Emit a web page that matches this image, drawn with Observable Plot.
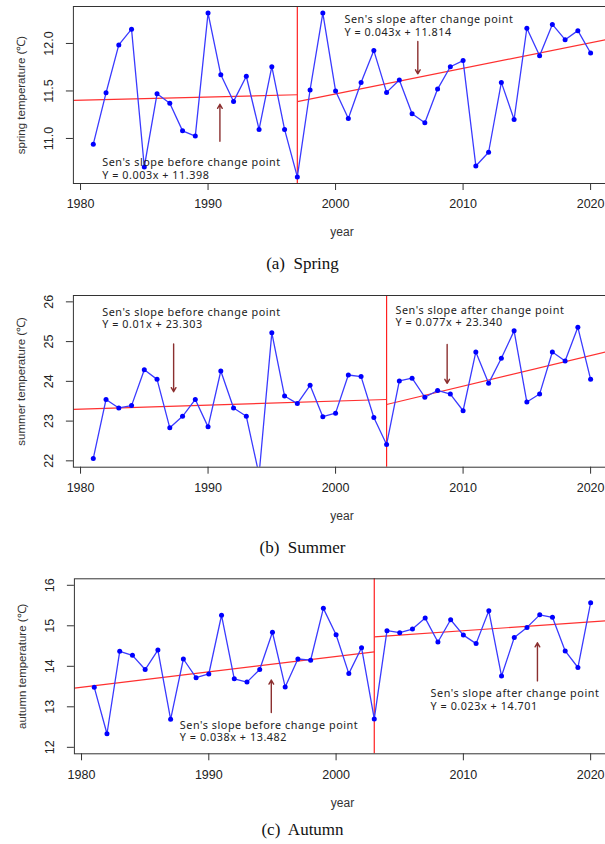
<!DOCTYPE html>
<html>
<head>
<meta charset="utf-8">
<script src="https://cdn.jsdelivr.net/npm/d3@7"></script>
<script src="https://cdn.jsdelivr.net/npm/@observablehq/plot@0.6"></script>
<style>
  html, body { margin: 0; padding: 0; background: #fff; }
  #root { position: relative; width: 605px; height: 844px; overflow: hidden; background: #fff; }
  .panel { position: absolute; left: 0; width: 605px; }
  .cap { position: absolute; left: 0; width: 605px; text-align: center;
         font-family: "Liberation Serif", "Times New Roman", serif; font-size: 17px; color: #111;
         line-height: 20px; white-space: pre; }
</style>
</head>
<body>
<div id="root"></div>
<script>
// ---------- data ----------
const years = [1981,1982,1983,1984,1985,1986,1987,1988,1989,1990,
               1991,1992,1993,1994,1995,1996,1997,1998,1999,2000,
               2001,2002,2003,2004,2005,2006,2007,2008,2009,2010,
               2011,2012,2013,2014,2015,2016,2017,2018,2019,2020];

const springTemp = [10.94,11.48,11.985,12.15,10.70,11.47,11.37,11.08,11.025,12.32,
                    11.67,11.39,11.655,11.095,11.755,11.095,10.595,11.51,12.32,11.50,
                    11.21,11.59,11.925,11.485,11.615,11.26,11.165,11.52,11.755,11.82,
                    10.71,10.855,11.59,11.20,12.16,11.87,12.20,12.04,12.135,11.90];

const summerTemp = [22.06,23.545,23.33,23.39,24.29,24.05,22.83,23.12,23.545,22.855,
                    24.26,23.33,23.12,21.65,25.22,23.63,23.44,23.90,23.11,23.20,
                    24.16,24.12,23.09,22.41,24.01,24.08,23.60,23.77,23.68,23.26,
                    24.74,23.95,24.58,25.27,23.48,23.68,24.74,24.51,25.36,24.05];

const autumnTemp = [13.48,12.335,14.37,14.27,13.92,14.40,12.69,14.18,13.72,13.81,
                    15.26,13.69,13.61,13.92,14.84,13.49,14.18,14.15,15.43,14.78,
                    13.82,14.46,12.70,14.88,14.83,14.92,15.19,14.60,15.15,14.77,
                    14.56,15.37,13.76,14.71,14.96,15.27,15.21,14.38,13.97,15.57];

const xTicks = [1980, 1990, 2000, 2010, 2020];
const springYTicks = [11.0, 11.5, 12.0];
const summerYTicks = [22, 23, 24, 25, 26];
const autumnYTicks = [12, 13, 14, 15, 16];
const summerYLim = [22, 26];
const autumnYLim = [12, 16];

const changeYears = [1997, 2004, 2003];
const yLabels = ["spring temperature (\u2103)", "summer temperature (\u2103)", "autumn temperature (\u2103)"];
const xLabel = "year";
const captions = ["(a)  Spring", "(b)  Summer", "(c)  Autumn"];

// Sen's slope trend segments: [startYear, startValue, endYear, endValue]
const springTrend = [[1979.44, 11.400, 1997, 11.460], [1997, 11.387, 2021.56, 12.050]];
const summerTrend = [[1979.44, 23.297, 2004, 23.543], [2004, 23.417, 2021.56, 24.770]];
const autumnTrend = [[1979.44, 13.461, 2003, 14.356], [2003, 14.724, 2021.56, 15.130]];

// annotation texts
const springNotes = [["Sen's slope before change point", "Y = 0.003x + 11.398"],
                     ["Sen's slope after change point",  "Y = 0.043x + 11.814"]];
const summerNotes = [["Sen's slope before change point", "Y = 0.01x + 23.303"],
                     ["Sen's slope after change point",  "Y = 0.077x + 23.340"]];
const autumnNotes = [["Sen's slope before change point", "Y = 0.038x + 13.482"],
                     ["Sen's slope after change point",  "Y = 0.023x + 14.701"]];
// annotation anchors (year, value)
const springNoteAt = [[1981.7, 10.683], [2000.7, 12.188]];
const summerNoteAt = [[1981.7, 25.594], [2004.7, 25.636]];
const autumnNoteAt = [[1987.72, 12.398], [2007.42, 13.178]];

// arrows: [year, fromValue, toValue]
const springArrows = [[1990.93, 10.97, 11.36], [2006.45, 12.02, 11.68]];
const summerArrows = [[1987.3, 24.94, 23.74], [2008.75, 24.93, 23.95]];
const autumnArrows = [[1994.91, 12.86, 13.66], [2015.82, 13.64, 14.58]];

// ---------- drawing ----------
const panels = [
  {temps: springTemp, ylim: null, yTicks: springYTicks, fmt: d3.format(".1f"),
   trend: springTrend, notes: springNotes, noteAt: springNoteAt, arrows: springArrows,
   top: 0, ml: 72.9, mt: 6, mb: 67, capTop: 254},
  {temps: summerTemp, ylim: summerYLim, yTicks: summerYTicks, fmt: d3.format("d"),
   trend: summerTrend, notes: summerNotes, noteAt: summerNoteAt, arrows: summerArrows,
   top: 285, ml: 72.9, mt: 10, mb: 68.3, capTop: 538},
  {temps: autumnTemp, ylim: autumnYLim, yTicks: autumnYTicks, fmt: d3.format("d"),
   trend: autumnTrend, notes: autumnNotes, noteAt: autumnNoteAt, arrows: autumnArrows,
   top: 560, ml: 73.9, mt: 18.3, mb: 56.7, capTop: 820}
];

const root = document.getElementById("root");
const sans = "'Liberation Sans', Arial, sans-serif";

panels.forEach((p, k) => {
  const data = years.map((year, i) => ({year, temp: p.temps[i]}));
  const xe = d3.extent(years), xp = (xe[1] - xe[0]) * 0.04;
  const ye = p.ylim ?? d3.extent(p.temps), yp = (ye[1] - ye[0]) * 0.04;
  const trends = p.trend.map(([x1, y1, x2, y2]) => ({x1, y1, x2, y2}));
  const arrows = p.arrows.map(([x, y1, y2]) => ({x, y1, y2}));
  const notes = p.notes.map((lines, i) => ({x: p.noteAt[i][0], y: p.noteAt[i][1], t: lines.join("\n")}));

  const svg = Plot.plot({
    width: 605, height: 250,
    marginLeft: p.ml, marginRight: -5, marginTop: p.mt, marginBottom: p.mb,
    style: {fontFamily: sans, fontSize: "12.5px", color: "#222", background: "white"},
    x: {domain: [xe[0] - xp, xe[1] + xp]},
    y: {domain: [ye[0] - yp, ye[1] + yp]},
    marks: [
      Plot.axisX({ticks: xTicks, tickSize: 7, tickPadding: 9, tickFormat: d => String(d), label: null, stroke: "#333"}),
      Plot.axisY({ticks: p.yTicks, tickSize: 7, tickFormat: () => "", label: null, stroke: "#333"}),
      Plot.text(p.yTicks, {y: d => d, text: p.fmt, frameAnchor: "left", rotate: -90, dx: -24,
                           textAnchor: "middle", lineAnchor: "middle", fontSize: 12.5, fill: "#222"}),
      Plot.text([yLabels[k]], {frameAnchor: "left", rotate: -90, dx: -52, textAnchor: "middle",
                               lineAnchor: "middle", fontSize: 11.5, fill: "#333"}),
      Plot.text([xLabel], {frameAnchor: "bottom", dy: 49, lineAnchor: "middle", fontSize: 12, fill: "#333"}),
      Plot.ruleX([changeYears[k]], {stroke: "#ff2020", strokeWidth: 1.2}),
      Plot.link(trends, {x1: "x1", y1: "y1", x2: "x2", y2: "y2", stroke: "#ff3030", strokeWidth: 1.2, clip: true}),
      Plot.line(data, {x: "year", y: "temp", stroke: "#3a3aff", strokeWidth: 1.3, clip: true}),
      Plot.dot(data, {x: "year", y: "temp", r: 2.5, fill: "#0000ff", stroke: "none", clip: true}),
      Plot.arrow(arrows, {x1: "x", x2: "x", y1: "y1", y2: "y2", stroke: "#8b2f2f", strokeWidth: 1.4,
                          headLength: 5, headAngle: 60}),
      Plot.text(notes, {x: "x", y: "y", text: "t", textAnchor: "start", lineAnchor: "middle",
                        fontSize: 10.8, lineHeight: 1.14, fill: "#222", ariaLabel: "annot",
                        fontFamily: "'Noto Sans', 'Open Sans', sans-serif"}),
      Plot.frame({stroke: "#333", strokeWidth: 1})
    ]
  });
  // widen the annotation lettering like the reference
  svg.querySelectorAll("text").forEach(t => {
    if (/Sen's|Y =/.test(t.textContent)) t.style.letterSpacing = "0.55px";
  });
  const wrap = document.createElement("div");
  wrap.className = "panel";
  wrap.style.top = p.top + "px";
  wrap.appendChild(svg);
  root.appendChild(wrap);

  const cap = document.createElement("div");
  cap.className = "cap";
  cap.style.top = p.capTop + "px";
  cap.textContent = captions[k];
  root.appendChild(cap);
});
</script>
</body>
</html>
